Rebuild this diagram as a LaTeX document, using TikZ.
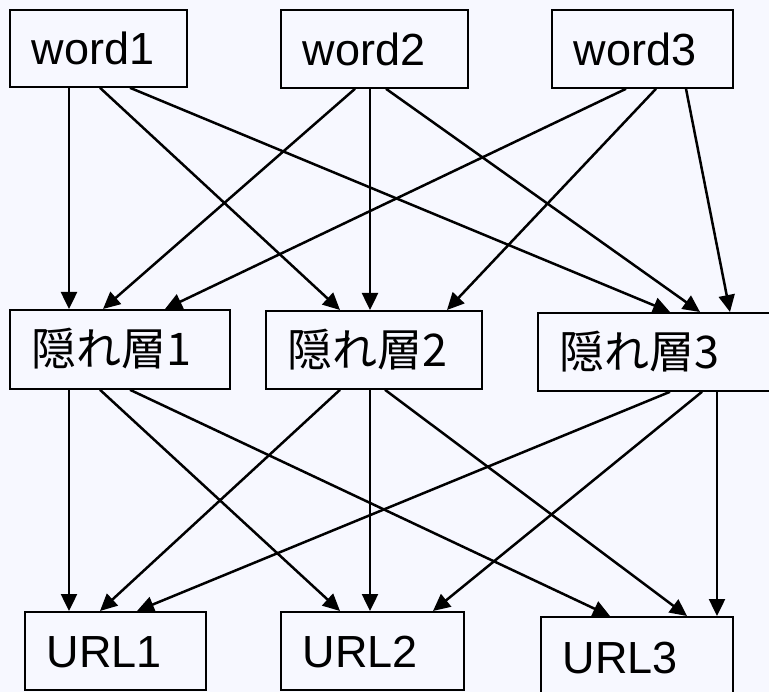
\documentclass[tikz,border=0pt]{standalone}
\usepackage{fontspec}
\setmainfont{Liberation Sans}
\newfontfamily\jpfont{Noto Sans CJK JP}
\usetikzlibrary{arrows.meta,calc}
\definecolor{bgc}{HTML}{F7F8FF}
\begin{document}
\begin{tikzpicture}[x=1pt,y=-1pt,
  box/.style={draw, line width=1.8pt, fill=bgc, anchor=north west, inner xsep=22pt, inner ysep=0pt,
    align=left, text height=33pt, text depth=0pt, font=\fontsize{45}{54}\selectfont},
  arr/.style={-{Triangle[length=17pt,width=16pt]}, line width=2.5pt}]
\fill[bgc] (0,0) rectangle (769,692);
\useasboundingbox (0,0) rectangle (769,692);
% top row
\node[box, text width=133pt, minimum height=77pt] (w1) at (9,9) {word1};
\node[box, text width=143pt, minimum height=78pt] (w2) at (280,9) {word2};
\node[box, text width=137pt, minimum height=78pt] (w3) at (551,9) {word3};
% middle row
\node[box, text width=176pt, minimum height=79pt] (h1) at (9,309) {{\jpfont 隠れ層1}};
\node[box, text width=172pt, minimum height=78pt] (h2) at (265,310) {{\jpfont 隠れ層2}};
\node[box, text width=196pt, minimum height=78pt] (h3) at (537,312) {{\jpfont 隠れ層3}};
% bottom row
\node[box, text width=137pt, minimum height=78pt] (u1) at (24,611) {URL1};
\node[box, text width=139pt, minimum height=78pt] (u2) at (280,611) {URL2};
\node[box, text width=148pt, minimum height=80pt] (u3) at (540,616) {URL3};
% top -> middle
\draw[arr] ($(w1.south west)+(60,0)$) -- ($(h1.north west)+(60,0)$);
\draw[arr] ($(w1.south west)+(91,0)$) -- ($(h2.north west)+(75,0)$);
\draw[arr] ($(w1.south west)+(121,0)$) -- ($(h3.north west)+(133,0)$);
\draw[arr] ($(w2.south west)+(75,0)$) -- ($(h1.north west)+(94,0)$);
\draw[arr] ($(w2.south west)+(90,0)$) -- ($(h2.north west)+(105,0)$);
\draw[arr] ($(w2.south west)+(106,0)$) -- ($(h3.north west)+(163,0)$);
\draw[arr] ($(w3.south west)+(75,0)$) -- ($(h1.north west)+(156,0)$);
\draw[arr] ($(w3.south west)+(105,0)$) -- ($(h2.north west)+(182,0)$);
\draw[arr] ($(w3.south west)+(135,0)$) -- ($(h3.north west)+(193,0)$);
% middle -> bottom
\draw[arr] ($(h1.south west)+(60,0)$) -- ($(u1.north west)+(45,0)$);
\draw[arr] ($(h1.south west)+(91,0)$) -- ($(u2.north west)+(60,0)$);
\draw[arr] ($(h1.south west)+(121,0)$) -- ($(u3.north west)+(70,0)$);
\draw[arr] ($(h2.south west)+(75,0)$) -- ($(u1.north west)+(76,0)$);
\draw[arr] ($(h2.south west)+(105,0)$) -- ($(u2.north west)+(90,0)$);
\draw[arr] ($(h2.south west)+(120,0)$) -- ($(u3.north west)+(147,0)$);
\draw[arr] ($(h3.south west)+(133,0)$) -- ($(u1.north west)+(113,0)$);
\draw[arr] ($(h3.south west)+(165,0)$) -- ($(u2.north west)+(153,0)$);
\draw[arr] ($(h3.south west)+(180,0)$) -- ($(u3.north west)+(177,0)$);
\end{tikzpicture}
\end{document}
